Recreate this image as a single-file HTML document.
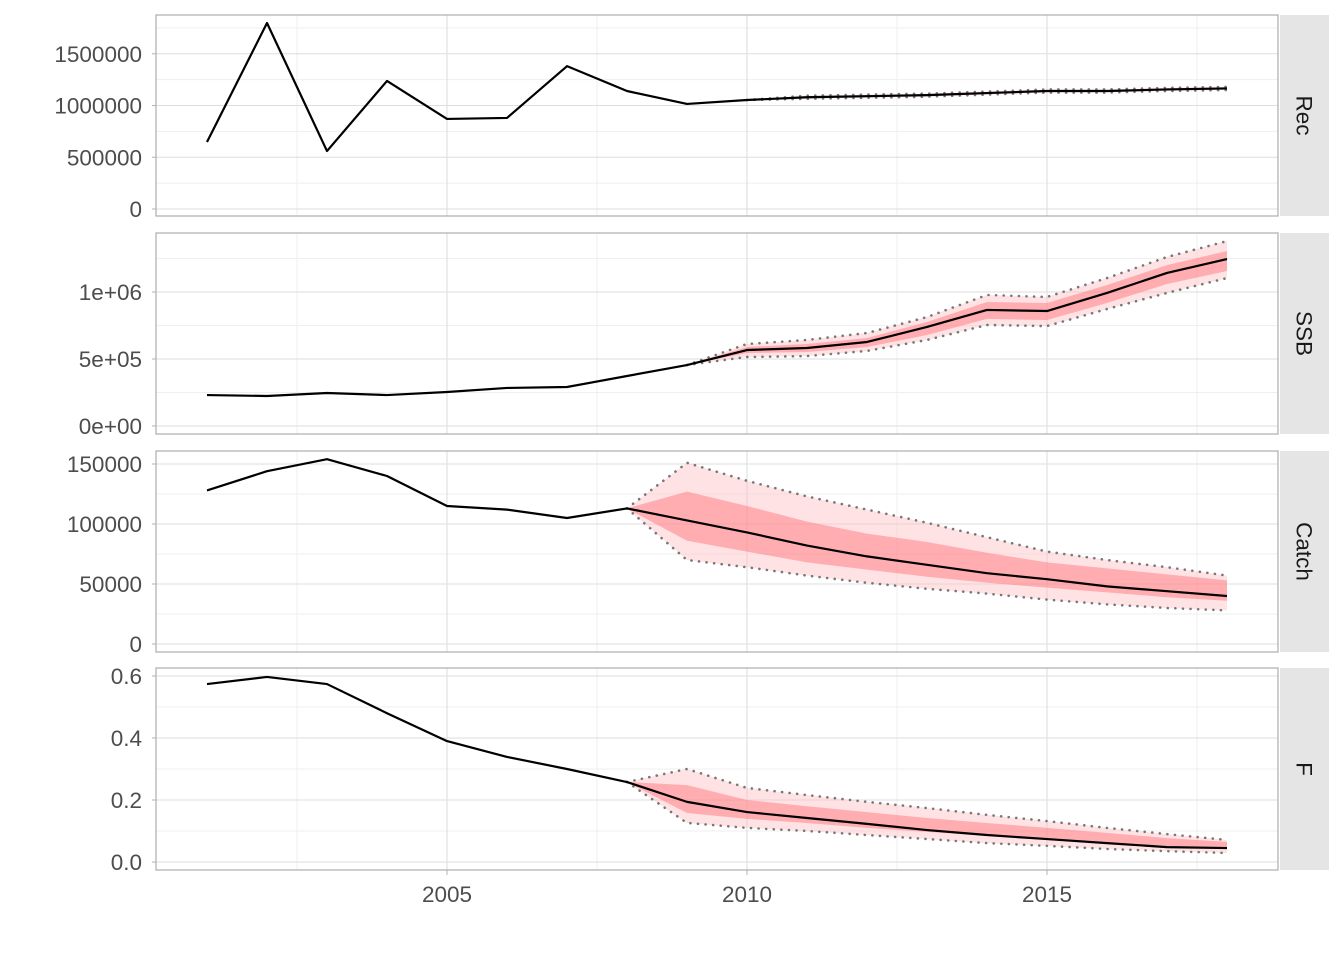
<!DOCTYPE html>
<html><head><meta charset="utf-8"><style>
body{margin:0;background:#fff;}
svg{display:block;font-family:"Liberation Sans",sans-serif;}
</style></head><body>
<svg id="c" width="1344" height="960" xmlns="http://www.w3.org/2000/svg"></svg>
<script>
const years=[2001,2002,2003,2004,2005,2006,2007,2008,2009,2010,2011,2012,2013,2014,2015,2016,2017,2018];
const recVals=[647000,1797000,560000,1237000,870000,880000,1380000,1140000,1015000,1053000,1080000,1090000,1100000,1120000,1140000,1140000,1155000,1165000];
const ssbVals=[231000,224000,246000,231000,254000,284000,291000,373000,455000,567000,582000,627000,739000,866000,858000,993000,1142000,1246000];
const catchVals=[128000,144000,154000,140000,115000,112000,105000,113000,103000,93000,82000,73000,66000,59000,54000,48000,44000,40000];
const fVals=[0.574,0.597,0.574,0.48,0.39,0.339,0.30,0.258,0.194,0.161,0.142,0.123,0.103,0.087,0.074,0.061,0.048,0.045];
const projYears=[2010,2011,2012,2013,2014,2015,2016,2017,2018];
const recOutHi=[1053000,1095000,1105000,1115000,1135000,1155000,1155000,1170000,1180000];
const recOutLo=[1053000,1065000,1075000,1085000,1105000,1125000,1125000,1140000,1150000];
const recInHi=[1053000,1090000,1100000,1110000,1130000,1150000,1150000,1165000,1175000];
const recInLo=[1053000,1070000,1080000,1090000,1110000,1130000,1130000,1145000,1155000];
const ssbProjYears=[2009,2010,2011,2012,2013,2014,2015,2016,2017,2018];
const ssbOutHi=[455000,612000,642000,694000,813000,978000,963000,1104000,1261000,1380000];
const ssbOutLo=[455000,515000,522000,560000,642000,754000,746000,873000,993000,1104000];
const ssbInHi=[455000,590000,612000,657000,776000,925000,918000,1052000,1201000,1306000];
const ssbInLo=[455000,545000,552000,590000,679000,799000,791000,918000,1060000,1157000];
const fcProjYears=[2008,2009,2010,2011,2012,2013,2014,2015,2016,2017,2018];
const catchOutHi=[113000,151000,136000,123000,112000,101000,89000,77000,70000,64000,57000];
const catchOutLo=[113000,70000,64000,57000,51000,46000,42000,37000,33000,30000,28000];
const catchInHi=[113000,127000,115000,102000,92000,85000,76000,68000,63000,58000,53000];
const catchInLo=[113000,86000,77000,68000,62000,56000,51000,47000,43000,39000,36000];
const fOutHi=[0.258,0.30,0.239,0.216,0.194,0.174,0.152,0.132,0.11,0.09,0.071];
const fOutLo=[0.258,0.126,0.11,0.10,0.087,0.074,0.061,0.052,0.042,0.035,0.029];
const fInHi=[0.258,0.248,0.2,0.18,0.161,0.142,0.126,0.11,0.094,0.077,0.065];
const fInLo=[0.258,0.158,0.139,0.126,0.11,0.097,0.084,0.071,0.061,0.052,0.042];
const xTicks=[2005,2010,2015];
const xMinor=[2002.5,2007.5,2012.5,2017.5];
const recTicks=[0,500000,1000000,1500000];const recTickLabels=["0","500000","1000000","1500000"];
const ssbTicks=[0,500000,1000000];const ssbTickLabels=["0e+00","5e+05","1e+06"];
const catchTicks=[0,50000,100000,150000];const catchTickLabels=["0","50000","100000","150000"];
const fTicks=[0,0.2,0.4,0.6];const fTickLabels=["0.0","0.2","0.4","0.6"];

const NS="http://www.w3.org/2000/svg";const svg=document.getElementById('c');
function mk(t,a,p){const e=document.createElementNS(NS,t);for(const k in a)e.setAttribute(k,a[k]);(p||svg).appendChild(e);return e;}
const L=156,R=1278,FS=22.5;
const xs=y=>207+(y-2001)*60;
const panels=[
 {name:'Rec',top:15,bot:216,y0:209,k:103.5/1e6,vals:recVals,ticks:recTicks,labels:recTickLabels,py:projYears,oh:recOutHi,ol:recOutLo,ih:recInHi,il:recInLo},
 {name:'SSB',top:233,bot:434,y0:426,k:134/1e6,vals:ssbVals,ticks:ssbTicks,labels:ssbTickLabels,py:ssbProjYears,oh:ssbOutHi,ol:ssbOutLo,ih:ssbInHi,il:ssbInLo},
 {name:'Catch',top:451,bot:652,y0:644,k:1.2/1000,vals:catchVals,ticks:catchTicks,labels:catchTickLabels,py:fcProjYears,oh:catchOutHi,ol:catchOutLo,ih:catchInHi,il:catchInLo},
 {name:'F',top:668,bot:870,y0:862,k:310,vals:fVals,ticks:fTicks,labels:fTickLabels,py:fcProjYears,oh:fOutHi,ol:fOutLo,ih:fInHi,il:fInLo}
];
panels.forEach(p=>{
 const g=mk('g',{});
 
 
 const ys=v=>p.y0-v*p.k;
 const step=p.ticks[1]-p.ticks[0];
 for(let i=-1;i<p.ticks.length;i++){const m=p.ticks[0]+step*(i+0.5);const yy=ys(m);if(yy>p.top&&yy<p.bot)mk('line',{x1:L,x2:R,y1:yy,y2:yy,stroke:'#efefef'},g);}
 xMinor.forEach(x=>mk('line',{x1:xs(x),x2:xs(x),y1:p.top,y2:p.bot,stroke:'#efefef'},g));
 p.ticks.forEach((t,i)=>{const yy=ys(t);mk('line',{x1:L,x2:R,y1:yy,y2:yy,stroke:'#dedede','stroke-width':1.1},g);
  mk('line',{x1:L-4,x2:L,y1:yy,y2:yy,stroke:'#b3b3b3'},g);
  const tx=mk('text',{x:L-14,y:yy+8,'text-anchor':'end','font-size':FS,fill:'#4d4d4d'},g);tx.textContent=p.labels[i];
  });
 xTicks.forEach(x=>mk('line',{x1:xs(x),x2:xs(x),y1:p.top,y2:p.bot,stroke:'#dedede','stroke-width':1.1},g));
 const band=(hi,lo,fill,nm)=>{let d=p.py.map((y,i)=>(i?'L':'M')+xs(y)+','+ys(hi[i])).join('');
  for(let i=p.py.length-1;i>=0;i--)d+='L'+xs(p.py[i])+','+ys(lo[i]);
  const e=mk('path',{d:d+'Z',fill:fill},g);};
 band(p.oh,p.ol,'rgba(255,190,195,0.45)','outer-band');
 band(p.ih,p.il,'rgba(255,120,125,0.5)','inner-band');
 const dl=(arr,nm)=>{const e=mk('polyline',{points:p.py.map((y,i)=>xs(y)+','+ys(arr[i])).join(' '),fill:'none',stroke:'#777','stroke-width':2.6,'stroke-dasharray':'0.1 7.5','stroke-linecap':'round'},g);
  };
 dl(p.oh,'upper-bound-line');dl(p.ol,'lower-bound-line');
 const ln=mk('polyline',{points:years.map((y,i)=>xs(y)+','+ys(p.vals[i])).join(' '),fill:'none',stroke:'#000','stroke-width':2.2,'stroke-linejoin':'round'},g);
 
 mk('rect',{x:L,y:p.top,width:R-L,height:p.bot-p.top,fill:'none',stroke:'#b3b3b3','stroke-width':1.3},g);
 const s=mk('rect',{x:1280,y:p.top,width:49,height:p.bot-p.top,fill:'#e5e5e5'},g);
 
 const cy=(p.top+p.bot)/2;
 const st=mk('text',{x:1304,y:cy,'text-anchor':'middle','font-size':FS,fill:'#1a1a1a',transform:'rotate(90 1304 '+cy+')','dominant-baseline':'central'},g);st.textContent=p.name;
 
});
xTicks.forEach(x=>{mk('line',{x1:xs(x),x2:xs(x),y1:870,y2:875,stroke:'#b3b3b3'});
 const t=mk('text',{x:xs(x),y:902,'text-anchor':'middle','font-size':FS,fill:'#4d4d4d'});t.textContent=x;
 });
</script>
</body></html>
